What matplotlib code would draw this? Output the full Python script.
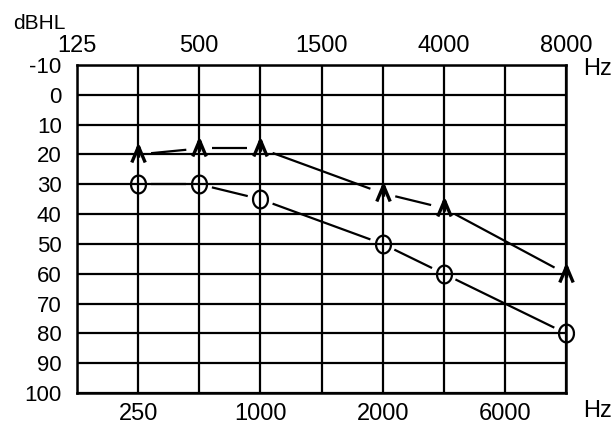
import numpy as np
import matplotlib
matplotlib.use("Agg")
import matplotlib.pyplot as plt
from matplotlib.path import Path

# ---- data ----
freq_positions = ["125", "250", "500", "1000", "1500", "2000", "4000", "6000", "8000"]
top_labels = ["125", "500", "1500", "4000", "8000"]
bottom_labels = ["250", "1000", "2000", "6000"]
db_ticks = [-10, 0, 10, 20, 30, 40, 50, 60, 70, 80, 90, 100]

test_freqs = ["250", "500", "1000", "2000", "4000", "8000"]
air_db = [20, 18, 18, 33, 38, 60]
bone_db = [30, 30, 35, 50, 60, 80]

plt.rcParams["font.family"] = ["Liberation Sans", "DejaVu Sans"]

W, H = 614, 429
fig = plt.figure(figsize=(W / 100, H / 100), dpi=100)
L, R, T, B = 77, 566, 65, 393
ax = fig.add_axes([L / W, 1 - B / H, (R - L) / W, (B - T) / H])

xpos = list(range(len(freq_positions)))
ax.set_xlim(xpos[0], xpos[-1])
ax.set_ylim(db_ticks[-1], db_ticks[0])

# grid
ax.vlines(xpos, db_ticks[0], db_ticks[-1], colors="black", lw=1.6, zorder=1)
ax.hlines(db_ticks, xpos[0], xpos[-1], colors="black", lw=1.6, zorder=1)
for s in ax.spines.values():
    s.set_linewidth(1.8)
    s.set_color("black")

# ticks/labels
ax.set_yticks(db_ticks)
ax.set_yticklabels([str(v) for v in db_ticks], fontsize=16)
bpos = [freq_positions.index(f) for f in bottom_labels]
ax.set_xticks(bpos)
ax.set_xticklabels(bottom_labels, fontsize=17)
ax.tick_params(axis="both", length=0)
ax.tick_params(axis="y", pad=11)
ax.tick_params(axis="x", pad=7)

top = ax.secondary_xaxis("top")
tpos = [freq_positions.index(f) for f in top_labels]
top.set_xticks(tpos)
top.set_xticklabels(top_labels, fontsize=17)
top.tick_params(length=0, pad=6)
top.spines["top"].set_visible(False)

# unit labels
fig.text(583 / W, 1 - 69 / H, "Hz", fontsize=17, ha="left", va="center")
fig.text(583 / W, 1 - 411 / H, "Hz", fontsize=17, ha="left", va="center")
fig.text(13 / W, 1 - 29 / H, "dBHL", fontsize=15, ha="left", va="baseline")

# markers
arrow = Path(
    [(-0.42, -0.5), (0, 0.5), (0.42, -0.5), (0, 0.5), (0, -0.2)],
    [Path.MOVETO, Path.LINETO, Path.LINETO, Path.MOVETO, Path.LINETO],
)
t = np.linspace(0, 2 * np.pi, 60)
ellipse = Path(np.column_stack([0.42 * np.cos(t), 0.5 * np.sin(t)]))

x_air = [freq_positions.index(f) for f in test_freqs]


def gapped_segments(xs, ys, gap_px=13):
    fig.canvas.draw()
    pts = ax.transData.transform(np.column_stack([xs, ys]))
    inv = ax.transData.inverted()
    for p, q in zip(pts[:-1], pts[1:]):
        d = q - p
        n = np.hypot(*d)
        u = d / n
        a = inv.transform(p + u * gap_px)
        b = inv.transform(q - u * gap_px)
        ax.plot([a[0], b[0]], [a[1], b[1]], color="black", lw=1.6, zorder=2,
                solid_capstyle="butt", clip_on=False)


gapped_segments(x_air, air_db)
gapped_segments(x_air, bone_db)

ax.plot(x_air, air_db, linestyle="none", marker=arrow, markersize=11.5,
        markeredgewidth=2.4, markeredgecolor="black", markerfacecolor="none",
        zorder=3, clip_on=False)
ax.plot(x_air, bone_db, linestyle="none", marker=ellipse, markersize=12.8,
        markeredgewidth=1.6, markeredgecolor="black", markerfacecolor="none",
        zorder=3, clip_on=False)

fig.savefig("out.png", dpi=100)
